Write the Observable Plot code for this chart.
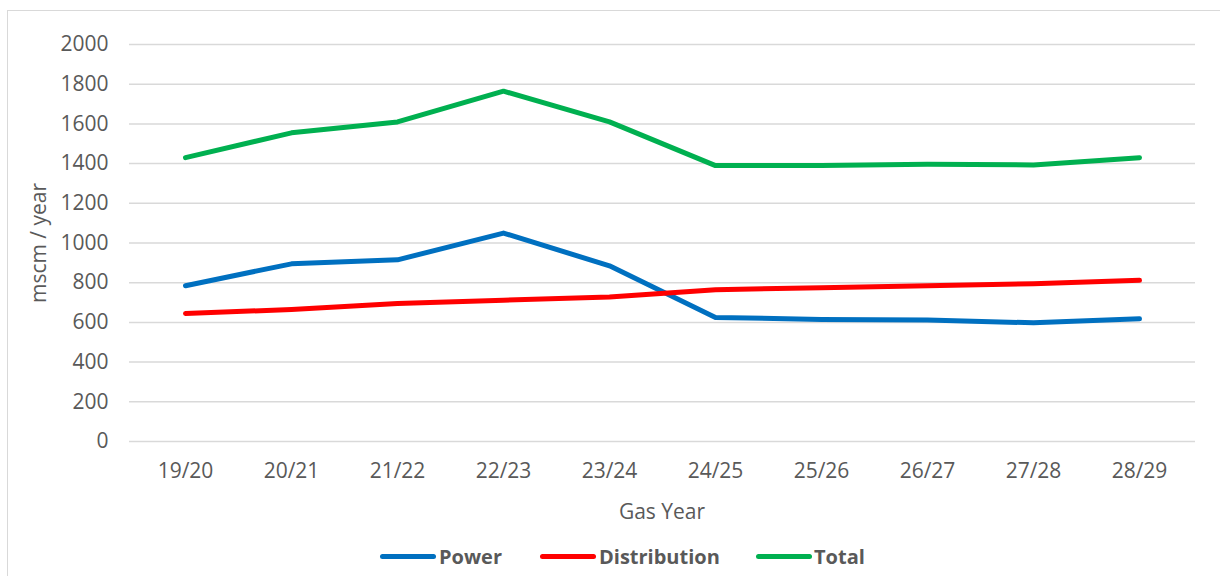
<!DOCTYPE html>
<html>
<head>
<meta charset="utf-8">
<script src="https://cdn.jsdelivr.net/npm/d3@7"></script>
<script src="https://cdn.jsdelivr.net/npm/@observablehq/plot@0.6"></script>
<style>
  html, body { margin: 0; padding: 0; background: #fff; }
  #wrap { position: relative; width: 1220px; height: 576px; overflow: hidden; font-family: "Open Sans", sans-serif; color: #595959; }
  #frame { position: absolute; left: 7px; top: 10px; width: 1300px; height: 700px; border: 1px solid #d9d9d9; box-sizing: border-box; }
  #chart { position: absolute; left: 0; top: 0; }
  .title { position: absolute; font-size: 21px; white-space: nowrap; }
  #xtitle { left: 662px; top: 511px; transform: translate(-50%, -50%); }
  #ytitle { left: 38px; top: 243px; transform: translate(-50%, -50%) rotate(-90deg); }
  #legend { position: absolute; left: 0; top: 0; }
  .sw { position: absolute; height: 5px; border-radius: 3px; }
  .lt { position: absolute; font-weight: 700; font-size: 20px; transform: translateY(-50%); white-space: nowrap; }
</style>
</head>
<body>
<div id="wrap">
  <div id="frame"></div>
  <div id="chart"></div>
  <div class="title" id="xtitle">Gas Year</div>
  <div class="title" id="ytitle">mscm / year</div>
  <div id="legend"></div>
</div>
<script>
const years = ["19/20", "20/21", "21/22", "22/23", "23/24", "24/25", "25/26", "26/27", "27/28", "28/29"];
const power = [785, 895, 915, 1050, 885, 625, 615, 612, 598, 618];
const distribution = [645, 665, 695, 712, 728, 765, 775, 785, 795, 812];
const total = [1430, 1555, 1610, 1765, 1610, 1390, 1390, 1397, 1393, 1430];
const yTicks = [0, 200, 400, 600, 800, 1000, 1200, 1400, 1600, 1800, 2000];
const seriesNames = ["Power", "Distribution", "Total"];
const seriesColors = ["#0070c0", "#ff0000", "#00b050"];

const seriesValues = [power, distribution, total];
const rows = [];
seriesNames.forEach((name, si) => {
  years.forEach((yr, i) => rows.push({series: name, year: yr, value: seriesValues[si][i]}));
});

const chart = Plot.plot({
  width: 1220,
  height: 530,
  marginLeft: 129,
  marginRight: 25,
  marginTop: 44,
  marginBottom: 89,
  style: {fontFamily: "Open Sans, sans-serif", fontSize: "21px", color: "#595959", background: "transparent"},
  x: {type: "point", domain: years, padding: 0.5},
  y: {domain: [0, 2000]},
  color: {domain: seriesNames, range: seriesColors},
  marks: [
    Plot.gridY(yTicks, {stroke: "#d9d9d9", strokeOpacity: 1, strokeWidth: 1.5}),
    Plot.axisY(yTicks, {tickSize: 0, tickPadding: 21, label: null, fontSize: 21, fill: "#595959", tickFormat: d => String(d)}),
    Plot.axisX({tickSize: 0, tickPadding: 22, label: null, fontSize: 21, fill: "#595959"}),
    Plot.line(rows, {x: "year", y: "value", z: "series", stroke: "series", strokeWidth: 5, strokeLinecap: "round", strokeLinejoin: "round"})
  ]
});
document.getElementById("chart").appendChild(chart);

// legend
const legend = document.getElementById("legend");
const legendPos = [{sw: 380, tx: 439}, {sw: 540, tx: 599}, {sw: 756, tx: 814}];
seriesNames.forEach((name, i) => {
  const sw = document.createElement("div");
  sw.className = "sw";
  sw.style.left = legendPos[i].sw + "px";
  sw.style.width = "56px";
  sw.style.top = "554px";
  sw.style.background = seriesColors[i];
  legend.appendChild(sw);
  const t = document.createElement("div");
  t.className = "lt";
  t.style.left = legendPos[i].tx + "px";
  t.style.top = "556px";
  t.textContent = name;
  legend.appendChild(t);
});
</script>
</body>
</html>
